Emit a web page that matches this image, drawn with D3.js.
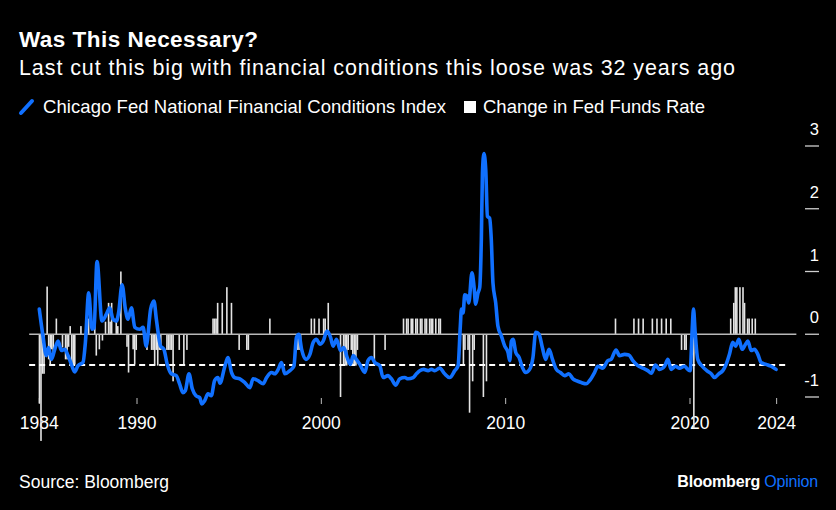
<!DOCTYPE html>
<html>
<head>
<meta charset="utf-8">
<script src="https://cdn.jsdelivr.net/npm/d3@7"></script>
<style>
  html, body { margin: 0; padding: 0; background: #000; }
  svg { display: block; }
  text { font-family: "Liberation Sans", Arial, Helvetica, sans-serif; fill: #fff; }
</style>
</head>
<body>
<svg id="chart" width="836" height="510"></svg>
<script>
// ---------------- DATA ----------------
const titleText = "Was This Necessary?";
const subtitleText = "Last cut this big with financial conditions this loose was 32 years ago";
const seriesNames = ["Chicago Fed National Financial Conditions Index", "Change in Fed Funds Rate"];
const sourceText = "Source: Bloomberg";

// NFCI (decimal year, value)
const nfciYears = [
  1984.70,1984.90,1985.08,1985.20,1985.36,1985.54,1985.72,1985.90,1986.08,1986.26,1986.44,1986.62,1986.80,
  1987.07,1987.20,1987.38,1987.56,1987.67,1987.83,1988.10,1988.34,1988.52,1988.70,1988.88,1989.00,1989.19,
  1989.37,1989.51,1989.70,1989.88,1990.15,1990.33,1990.50,1990.74,1990.92,1991.05,1991.28,1991.46,1991.64,
  1991.86,1992.13,1992.31,1992.49,1992.62,1992.82,1993.00,1993.20,1993.40,1993.52,1993.67,1993.85,1994.03,
  1994.21,1994.39,1994.50,1994.75,1994.93,1995.13,1995.30,1995.58,1995.85,1996.12,1996.30,1996.57,1996.84,
  1997.03,1997.30,1997.48,1997.66,1997.84,1998.02,1998.29,1998.51,1998.65,1998.78,1998.93,1999.16,1999.38,
  1999.56,1999.74,1999.92,2000.10,2000.31,2000.50,2000.64,2000.82,2001.04,2001.22,2001.40,2001.58,2001.73,
  2001.90,2002.09,2002.36,2002.53,2002.72,2002.90,2003.17,2003.35,2003.62,2003.80,2004.04,2004.25,2004.53,
  2004.70,2004.98,2005.16,2005.34,2005.55,2005.79,2005.97,2006.15,2006.42,2006.69,2006.96,2007.24,2007.42,
  2007.54,2007.60,2007.69,2007.78,2007.90,2008.00,2008.17,2008.28,2008.37,2008.50,2008.59,2008.68,2008.74,
  2008.82,2008.92,2009.01,2009.13,2009.22,2009.31,2009.46,2009.58,2009.77,2009.95,2010.13,2010.22,2010.31,
  2010.40,2010.55,2010.73,2010.91,2011.08,2011.30,2011.48,2011.63,2011.81,2011.99,2012.17,2012.35,2012.54,
  2012.75,2012.97,2013.20,2013.43,2013.65,2013.83,2014.10,2014.37,2014.55,2014.82,2015.00,2015.27,2015.54,
  2015.72,2015.99,2016.17,2016.45,2016.68,2016.90,2017.17,2017.44,2017.71,2017.90,2018.13,2018.35,2018.62,
  2018.80,2018.98,2019.21,2019.43,2019.70,2019.88,2020.01,2020.12,2020.19,2020.28,2020.42,2020.66,2020.91,
  2021.15,2021.33,2021.56,2021.78,2021.96,2022.14,2022.32,2022.47,2022.65,2022.83,2023.01,2023.14,2023.32,
  2023.50,2023.68,2023.86,2024.13,2024.40,2024.67
];
const nfciValues = [
  0.40,-0.03,-0.34,-0.21,-0.40,-0.24,-0.11,-0.26,-0.24,-0.34,-0.48,-0.60,-0.50,
  -0.45,-0.13,0.66,0.08,0.10,1.16,0.21,0.32,0.42,0.24,0.21,0.34,0.79,
  0.40,0.24,0.42,0.11,0.08,0.11,-0.19,0.40,0.53,0.24,-0.19,-0.24,-0.48,
  -0.63,-0.66,-0.79,-0.93,-0.90,-0.63,-0.87,-0.98,-1.01,-1.11,-1.06,-0.95,-0.98,
  -0.74,-0.69,-0.78,-0.53,-0.37,-0.61,-0.69,-0.71,-0.77,-0.85,-0.71,-0.74,-0.79,
  -0.69,-0.61,-0.63,-0.56,-0.45,-0.63,-0.58,-0.51,-0.05,0.00,-0.24,-0.40,-0.32,
  -0.13,-0.08,-0.16,-0.11,0.05,-0.05,-0.19,-0.08,-0.26,-0.21,-0.37,-0.48,-0.34,
  -0.40,-0.48,-0.61,-0.42,-0.37,-0.45,-0.50,-0.69,-0.66,-0.71,-0.81,-0.71,-0.69,
  -0.71,-0.69,-0.63,-0.58,-0.56,-0.58,-0.56,-0.58,-0.54,-0.63,-0.69,-0.58,-0.50,
  0.13,0.40,0.34,0.63,0.61,0.50,0.98,0.77,0.48,0.66,0.74,1.51,2.57,
  2.88,2.62,1.88,1.85,1.51,0.82,0.50,0.13,-0.03,-0.19,-0.29,-0.42,-0.11,
  -0.08,-0.29,-0.37,-0.53,-0.61,-0.56,-0.37,0.03,0.00,-0.21,-0.40,-0.24,-0.40,
  -0.56,-0.61,-0.66,-0.63,-0.71,-0.74,-0.77,-0.79,-0.74,-0.61,-0.51,-0.54,-0.42,
  -0.40,-0.25,-0.34,-0.32,-0.33,-0.42,-0.50,-0.54,-0.58,-0.62,-0.49,-0.56,-0.51,
  -0.40,-0.56,-0.51,-0.54,-0.51,-0.56,-0.58,0.08,0.40,0.03,-0.40,-0.51,-0.58,
  -0.63,-0.69,-0.63,-0.58,-0.48,-0.32,-0.13,-0.19,-0.08,-0.24,-0.16,-0.11,-0.26,
  -0.24,-0.32,-0.45,-0.48,-0.51,-0.56
];

// Monthly change in fed funds target (month, change in percentage points)
const rateMonths = [
  "1984-09","1984-10","1984-11","1984-12",
  "1985-02","1985-03","1985-04","1985-05","1985-06","1985-08","1985-12",
  "1986-02","1986-03","1986-04","1986-05","1986-06","1986-07","1986-08","1986-12",
  "1987-05","1987-09","1987-10","1987-12",
  "1988-02","1988-04","1988-06","1988-07","1988-08","1988-11","1988-12",
  "1989-02","1989-06","1989-07","1989-10","1989-11","1989-12",
  "1990-07","1990-10","1990-11","1990-12",
  "1991-01","1991-02","1991-03","1991-04","1991-08","1991-09","1991-10","1991-11","1991-12",
  "1992-04","1992-07","1992-09",
  "1994-02","1994-03","1994-04","1994-05","1994-08","1994-11",
  "1995-02","1995-07","1995-12","1996-01","1997-03",
  "1998-09","1998-10","1998-11",
  "1999-06","1999-08","1999-11",
  "2000-02","2000-03","2000-05",
  "2001-01","2001-03","2001-04","2001-05","2001-06","2001-08","2001-09","2001-10","2001-11","2001-12",
  "2002-11","2003-06",
  "2004-06","2004-08","2004-09","2004-11","2004-12",
  "2005-02","2005-03","2005-05","2005-06","2005-08","2005-09","2005-11","2005-12",
  "2006-01","2006-03","2006-05","2006-06",
  "2007-09","2007-10","2007-12",
  "2008-01","2008-03","2008-04","2008-10","2008-12",
  "2015-12","2016-12","2017-03","2017-06","2017-12",
  "2018-03","2018-06","2018-09","2018-12",
  "2019-07","2019-09","2019-10","2020-03",
  "2022-03","2022-05","2022-06","2022-07","2022-09","2022-11","2022-12",
  "2023-02","2023-03","2023-05","2023-07"
];
const rateChanges = [
  -1.10,-1.70,-0.63,-0.63,
  0.76,-0.40,-0.48,-0.24,-0.35,0.25,-0.21,
  -0.40,-0.40,-0.20,0.13,-0.48,-0.48,-0.48,0.13,
  0.25,0.25,-0.34,-0.24,
  -0.10,0.20,0.50,0.20,0.50,0.25,0.13,
  1.00,-0.20,-0.61,-0.24,-0.48,-0.25,
  -0.25,-0.25,-0.25,-0.50,
  -0.25,-0.50,-0.25,-0.25,-0.25,-0.25,-0.25,-0.25,-0.75,
  -0.25,-0.50,-0.25,
  0.25,0.25,0.25,0.50,0.50,0.75,
  0.50,-0.25,-0.25,-0.25,0.25,
  -0.25,-0.25,-0.25,
  0.25,0.25,0.25,
  0.25,0.25,0.50,
  -1.00,-0.50,-0.50,-0.50,-0.25,-0.25,-0.50,-0.50,-0.50,-0.25,
  -0.50,-0.25,
  0.25,0.25,0.25,0.25,0.25,
  0.25,0.25,0.25,0.25,0.25,0.25,0.25,0.25,
  0.25,0.25,0.25,0.25,
  -0.50,-0.25,-0.25,
  -1.25,-0.75,-0.25,-1.00,-0.75,
  0.25,0.25,0.25,0.25,0.25,
  0.25,0.25,0.25,0.25,
  -0.25,-0.25,-0.25,-1.50,
  0.25,0.50,0.75,0.75,0.75,0.75,0.50,
  0.25,0.25,0.25,0.25
];

const yTicks = [-1, 0, 1, 2, 3];
const xTickValues = [1984.7, 1990, 2000, 2010, 2020, 2024.7];
const xTickLabels = ["1984", "1990", "2000", "2010", "2020", "2024"];
const referenceLevel = -0.49;     // dashed line level
const lineSpan = [1984.15, 2025.77];
const dashSpan = [1984.15, 2025.23];

// ---------------- DRAW ----------------
const svg = d3.select("#chart");
svg.append("rect").attr("width", 836).attr("height", 510).attr("fill", "#000");

const x = d3.scaleLinear().domain([1990, 2020]).range([137, 690]);
const y = d3.scaleLinear().domain([-1, 3]).range([397, 146]);

const blue = "#1070ff";

// Title block
svg.append("text").attr("x", 19).attr("y", 47).attr("font-size", 22.5).attr("font-weight", "bold")
  .attr("textLength", 239).attr("lengthAdjust", "spacing").text(titleText);
svg.append("text").attr("x", 19).attr("y", 75).attr("font-size", 21.5)
  .attr("textLength", 716).attr("lengthAdjust", "spacing").text(subtitleText);

// Legend
svg.append("line").attr("x1", 21).attr("y1", 113).attr("x2", 32).attr("y2", 101)
  .attr("stroke", blue).attr("stroke-width", 4).attr("stroke-linecap", "round");
svg.append("text").attr("x", 43).attr("y", 113).attr("font-size", 18.5)
  .attr("textLength", 403).attr("lengthAdjust", "spacing").text(seriesNames[0]);
svg.append("rect").attr("x", 464).attr("y", 101).attr("width", 12).attr("height", 12).attr("fill", "#fff");
svg.append("text").attr("x", 483).attr("y", 113).attr("font-size", 18.5)
  .attr("textLength", 222).attr("lengthAdjust", "spacing").text(seriesNames[1]);

// Y axis (right)
const yAxis = svg.append("g");
yTicks.forEach(t => {
  yAxis.append("line").attr("x1", 805).attr("x2", 819).attr("y1", y(t)).attr("y2", y(t))
    .attr("stroke", "#cfcfcf").attr("stroke-width", 1.3);
  yAxis.append("text").attr("x", 819).attr("y", y(t) - 11).attr("text-anchor", "end")
    .attr("font-size", 16.5).text(t);
});

// X axis ticks + labels
const xAxis = svg.append("g");
xTickValues.forEach((t, i) => {
  xAxis.append("line").attr("x1", x(t)).attr("x2", x(t)).attr("y1", 398).attr("y2", 404)
    .attr("stroke", "#bdbdbd").attr("stroke-width", 1);
  xAxis.append("text").attr("x", x(t)).attr("y", 428.5).attr("text-anchor", "middle")
    .attr("font-size", 17.5).text(xTickLabels[i]);
});

// Bars: change in fed funds rate
const bars = rateMonths.map((m, i) => {
  const [yy, mm] = m.split("-").map(Number);
  return { t: yy + (mm - 0.5) / 12, v: rateChanges[i] };
});
svg.append("g").selectAll("rect").data(bars).join("rect")
  .attr("x", d => x(d.t) - 0.8)
  .attr("width", 1.6)
  .attr("y", d => Math.min(y(0), y(d.v)))
  .attr("height", d => Math.abs(y(d.v) - y(0)))
  .attr("fill", "#e4e4e4");

// Zero line
svg.append("line").attr("x1", x(lineSpan[0])).attr("x2", x(lineSpan[1]))
  .attr("y1", y(0)).attr("y2", y(0)).attr("stroke", "#b8b8b8").attr("stroke-width", 1.6);

// Dashed reference line
svg.append("line").attr("x1", x(dashSpan[0])).attr("x2", x(dashSpan[1]))
  .attr("y1", y(referenceLevel)).attr("y2", y(referenceLevel))
  .attr("stroke", "#fff").attr("stroke-width", 2).attr("stroke-dasharray", "6,4");

// NFCI line
const nfci = nfciYears.map((t, i) => ({ t, v: nfciValues[i] }));
svg.append("path").datum(nfci)
  .attr("d", d3.line().x(d => x(d.t)).y(d => y(d.v)).curve(d3.curveMonotoneX))
  .attr("fill", "none").attr("stroke", blue).attr("stroke-width", 3.6)
  .attr("stroke-linejoin", "round").attr("stroke-linecap", "round");

// Footer
svg.append("text").attr("x", 19).attr("y", 488).attr("font-size", 17.5)
  .attr("textLength", 150).attr("lengthAdjust", "spacing").text(sourceText);
const brand = svg.append("text").attr("x", 818).attr("y", 487).attr("text-anchor", "end")
  .attr("font-size", 16).attr("letter-spacing", -0.2);
brand.append("tspan").attr("font-weight", "bold").text("Bloomberg ");
brand.append("tspan").style("fill", blue).text("Opinion");
</script>
</body>
</html>
